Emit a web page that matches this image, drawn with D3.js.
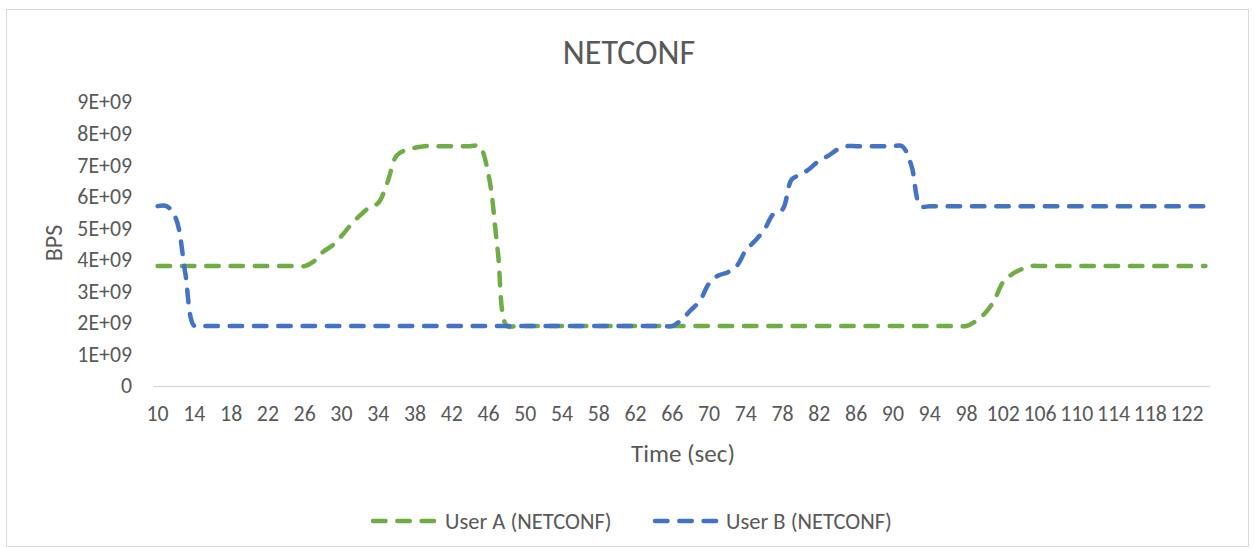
<!DOCTYPE html>
<html>
<head>
<meta charset="utf-8">
<script src="https://cdn.jsdelivr.net/npm/d3@7"></script>
<style>
  html, body { margin: 0; padding: 0; background: #fff; }
  svg text { font-family: Carlito, Lato, "Open Sans", sans-serif; fill: #595959; }
</style>
</head>
<body>
<svg id="chart" width="1254" height="548"></svg>
<script>
// Time axis categories (seconds)
const times = d3.range(10, 125);

// Throughput in bits per second, one value per second (10 s .. 124 s)
const userA = [
  3.8e9, 3.8e9, 3.8e9, 3.8e9, 3.8e9, 3.8e9, 3.8e9, 3.8e9, 3.8e9, 3.8e9,   // 10-19
  3.8e9, 3.8e9, 3.8e9, 3.8e9, 3.8e9, 3.8e9, 3.8e9, 3.95e9, 4.25e9, 4.45e9, // 20-29
  4.75e9, 5.1e9, 5.4e9, 5.65e9, 5.8e9, 6.45e9, 7.3e9, 7.48e9, 7.55e9, 7.6e9, // 30-39
  7.6e9, 7.6e9, 7.6e9, 7.6e9, 7.6e9, 7.6e9, 6.7e9, 4.3e9, 1.9e9, 1.9e9,   // 40-49
  1.9e9, 1.9e9, 1.9e9, 1.9e9, 1.9e9, 1.9e9, 1.9e9, 1.9e9, 1.9e9, 1.9e9,   // 50-59
  1.9e9, 1.9e9, 1.9e9, 1.9e9, 1.9e9, 1.9e9, 1.9e9, 1.9e9, 1.9e9, 1.9e9,   // 60-69
  1.9e9, 1.9e9, 1.9e9, 1.9e9, 1.9e9, 1.9e9, 1.9e9, 1.9e9, 1.9e9, 1.9e9,   // 70-79
  1.9e9, 1.9e9, 1.9e9, 1.9e9, 1.9e9, 1.9e9, 1.9e9, 1.9e9, 1.9e9, 1.9e9,   // 80-89
  1.9e9, 1.9e9, 1.9e9, 1.9e9, 1.9e9, 1.9e9, 1.9e9, 1.9e9, 1.9e9, 2.05e9,  // 90-99
  2.3e9, 2.7e9, 3.3e9, 3.55e9, 3.7e9, 3.8e9, 3.8e9, 3.8e9, 3.8e9, 3.8e9,  // 100-109
  3.8e9, 3.8e9, 3.8e9, 3.8e9, 3.8e9, 3.8e9, 3.8e9, 3.8e9, 3.8e9, 3.8e9,   // 110-119
  3.8e9, 3.8e9, 3.8e9, 3.8e9, 3.8e9                                       // 120-124
];
const userB = [
  5.7e9, 5.7e9, 5.3e9, 3.6e9, 1.9e9, 1.9e9, 1.9e9, 1.9e9, 1.9e9, 1.9e9,   // 10-19
  1.9e9, 1.9e9, 1.9e9, 1.9e9, 1.9e9, 1.9e9, 1.9e9, 1.9e9, 1.9e9, 1.9e9,   // 20-29
  1.9e9, 1.9e9, 1.9e9, 1.9e9, 1.9e9, 1.9e9, 1.9e9, 1.9e9, 1.9e9, 1.9e9,   // 30-39
  1.9e9, 1.9e9, 1.9e9, 1.9e9, 1.9e9, 1.9e9, 1.9e9, 1.9e9, 1.9e9, 1.9e9,   // 40-49
  1.9e9, 1.9e9, 1.9e9, 1.9e9, 1.9e9, 1.9e9, 1.9e9, 1.9e9, 1.9e9, 1.9e9,   // 50-59
  1.9e9, 1.9e9, 1.9e9, 1.9e9, 1.9e9, 1.9e9, 1.9e9, 2.1e9, 2.4e9, 2.7e9,   // 60-69
  3.25e9, 3.5e9, 3.6e9, 3.8e9, 4.3e9, 4.6e9, 4.95e9, 5.45e9, 5.6e9, 6.55e9, // 70-79
  6.7e9, 6.9e9, 7.15e9, 7.3e9, 7.5e9, 7.6e9, 7.6e9, 7.6e9, 7.6e9, 7.6e9,  // 80-89
  7.6e9, 7.6e9, 7.0e9, 5.7e9, 5.7e9, 5.7e9, 5.7e9, 5.7e9, 5.7e9, 5.7e9,   // 90-99
  5.7e9, 5.7e9, 5.7e9, 5.7e9, 5.7e9, 5.7e9, 5.7e9, 5.7e9, 5.7e9, 5.7e9,   // 100-109
  5.7e9, 5.7e9, 5.7e9, 5.7e9, 5.7e9, 5.7e9, 5.7e9, 5.7e9, 5.7e9, 5.7e9,   // 110-119
  5.7e9, 5.7e9, 5.7e9, 5.7e9, 5.7e9                                       // 120-124
];

const yTicks = [0, 1e9, 2e9, 3e9, 4e9, 5e9, 6e9, 7e9, 8e9, 9e9];
const yTickLabels = ["0", "1E+09", "2E+09", "3E+09", "4E+09", "5E+09", "6E+09", "7E+09", "8E+09", "9E+09"];
const xLabelTimes = times.filter(t => (t - 10) % 4 === 0);

const seriesNames = ["User A (NETCONF)", "User B (NETCONF)"];
const seriesColors = ["#70AD47", "#4472C4"];

const svg = d3.select("#chart");

// Chart area frame
svg.append("rect")
  .attr("x", 6.5).attr("y", 9.5)
  .attr("width", 1242).attr("height", 537)
  .attr("fill", "#fff").attr("stroke", "#D9D9D9").attr("stroke-width", 1);

const plot = { left: 153, right: 1210, top: 102, bottom: 386 };

const x = d3.scaleBand().domain(times).range([plot.left, plot.right]);
const xc = t => x(t) + x.bandwidth() / 2;
const y = d3.scaleLinear().domain([0, 9e9]).range([plot.bottom, plot.top]);

// Title
svg.append("text")
  .attr("x", 629).attr("y", 64)
  .attr("text-anchor", "middle")
  .style("font-size", "34px")
  .text("NETCONF");

// Y axis labels (no axis line, no gridlines)
const yAxis = d3.axisLeft(y).tickValues(yTicks)
  .tickFormat((d, i) => yTickLabels[i]).tickSize(0).tickPadding(0);
const gy = svg.append("g").attr("transform", "translate(132,0)").call(yAxis);
gy.select(".domain").remove();
gy.selectAll("text").style("font-size", "21.8px").attr("fill", "#595959");

// X axis: baseline at zero plus category labels
const xAxis = d3.axisBottom(x).tickValues(xLabelTimes).tickSize(0).tickPadding(0);
const gx = svg.append("g").attr("transform", `translate(0,${plot.bottom})`).call(xAxis);
gx.select(".domain").attr("stroke", "#D9D9D9").attr("stroke-width", 1.5);
gx.selectAll("text").attr("dy", "0").attr("y", 35)
  .style("font-size", "21.8px").attr("fill", "#595959");

// Axis titles
svg.append("text")
  .attr("x", 683).attr("y", 462)
  .attr("text-anchor", "middle")
  .style("font-size", "25px")
  .text("Time (sec)");

svg.append("text")
  .attr("transform", "translate(62,243) rotate(-90)")
  .attr("text-anchor", "middle")
  .style("font-size", "24px")
  .text("BPS");

// Series lines
const line = d3.line()
  .x((d, i) => xc(times[i]))
  .y(d => y(d))
  .curve(d3.curveCatmullRom.alpha(0.5));

const dash = "12.5,11.8";
[userA, userB].forEach((vals, k) => {
  svg.append("path")
    .datum(vals)
    .attr("d", line)
    .attr("fill", "none")
    .attr("stroke", seriesColors[k])
    .attr("stroke-width", 4.5)
    .attr("stroke-linecap", "round")
    .attr("stroke-linejoin", "round")
    .attr("stroke-dasharray", dash);
});

// Legend
const legendItems = [
  { x: 373, tx: 445 },
  { x: 655, tx: 726 }
];
legendItems.forEach((it, k) => {
  svg.append("line")
    .attr("x1", it.x).attr("x2", it.x + 62)
    .attr("y1", 521).attr("y2", 521)
    .attr("stroke", seriesColors[k])
    .attr("stroke-width", 4.5)
    .attr("stroke-linecap", "round")
    .attr("stroke-dasharray", dash);
  svg.append("text")
    .attr("x", it.tx).attr("y", 529)
    .style("font-size", "22.5px")
    .text(seriesNames[k]);
});
</script>
</body>
</html>
